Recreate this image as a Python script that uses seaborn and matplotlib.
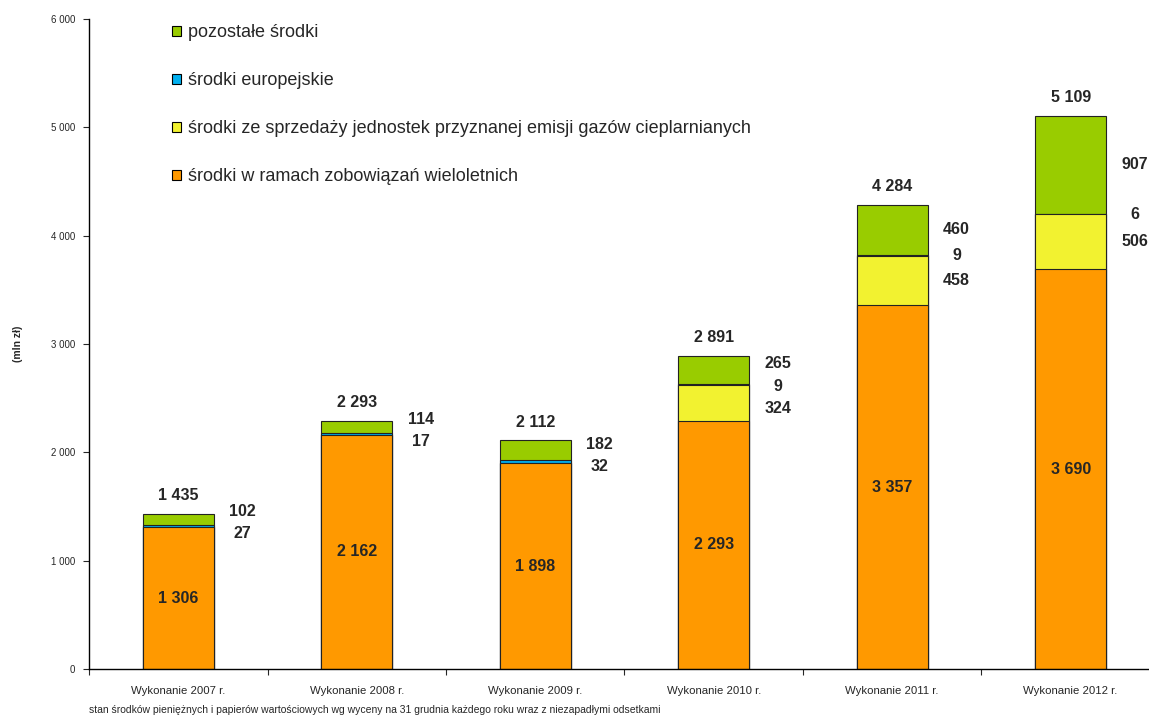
import matplotlib
matplotlib.use("Agg")
import matplotlib.pyplot as plt
import seaborn as sns
import numpy as np
import pandas as pd
from matplotlib.patches import Patch
from matplotlib.ticker import FuncFormatter, FixedLocator

sns.set_style("white")
plt.rcParams['font.family'] = ['Liberation Sans', 'DejaVu Sans']

# dane (mln zł)
years = ["Wykonanie 2007 r.", "Wykonanie 2008 r.", "Wykonanie 2009 r.",
         "Wykonanie 2010 r.", "Wykonanie 2011 r.", "Wykonanie 2012 r."]
zobowiazania = [1306, 2162, 1898, 2293, 3357, 3690]
emisje = [0, 0, 0, 324, 458, 506]
europejskie = [27, 17, 32, 9, 9, 6]
pozostale = [102, 114, 182, 265, 460, 907]

series_names = ["środki w ramach zobowiązań wieloletnich",
                "środki ze sprzedaży jednostek przyznanej emisji gazów cieplarnianych",
                "środki europejskie",
                "pozostałe środki"]
colors = ["#FF9900", "#F2F230", "#00B0F0", "#99CC00"]

footnote = ("stan środków pieniężnych i papierów wartościowych wg wyceny na 31 grudnia "
            "każdego roku wraz z niezapadłymi odsetkami")


def fmt(v):
    return f"{int(v):,}".replace(",", " ")


df = pd.DataFrame({"rok": years, "z": zobowiazania, "e": emisje,
                   "eu": europejskie, "p": pozostale})
layers = ["z", "e", "eu", "p"]
cum = df[layers].cumsum(axis=1)

fig = plt.figure(figsize=(11.49, 7.17), dpi=100)
ax = fig.add_axes([0.0775, 0.067, 0.932, 0.9065])

# stacked bars drawn as overlapping cumulative bars (top layer first)
for i in range(len(layers) - 1, -1, -1):
    sns.barplot(x=df["rok"], y=cum[layers[i]], color=colors[i], width=0.4,
                edgecolor="#222222", linewidth=0.8, saturation=1, ax=ax)

ax.set_ylim(0, 6000)
ax.set_xlim(-0.5, 5.5)
ax.set_xlabel("")
ax.set_ylabel("(mln zł)", fontsize=7.5, fontweight="bold")
ax.yaxis.set_label_coords(-0.062, 0.5)

ax.yaxis.set_major_locator(FixedLocator(np.arange(0, 6001, 1000)))
ax.yaxis.set_major_formatter(FuncFormatter(lambda v, p: fmt(v)))
ax.tick_params(axis="y", which="major", direction="out", length=4, width=0.8,
               labelsize=7, left=True, pad=6)
ax.tick_params(axis="x", which="major", length=0, labelsize=8.2, pad=12)
ax.set_xticks(np.arange(-0.5, 6.0, 1.0), minor=True)
ax.tick_params(axis="x", which="minor", direction="out", length=4, width=0.8, bottom=True)

for s in ["top", "right"]:
    ax.spines[s].set_visible(False)
for s in ["left", "bottom"]:
    ax.spines[s].set_color("black")
    ax.spines[s].set_linewidth(1.0)

# labels
totals = cum["p"].values
for k in range(len(years)):
    # orange value inside
    ax.text(k, zobowiazania[k] / 2, fmt(zobowiazania[k]), ha="center", va="center",
            fontsize=11.5, fontweight="bold")
    # total above
    ax.annotate(fmt(totals[k]), (k, totals[k]), xytext=(0, 13), textcoords="offset points",
                ha="center", va="center", fontsize=11.5, fontweight="bold")
    # side labels: pozostałe, europejskie, emisje (top to bottom)
    items = []
    for name, vals in [("p", pozostale), ("eu", europejskie), ("e", emisje)]:
        if vals[k] > 0:
            top = cum[name].values[k]
            items.append([top - vals[k] / 2, vals[k]])
    gap = 205
    for _ in range(50):
        for j in range(len(items) - 1):
            d = items[j][0] - items[j + 1][0]
            if d < gap:
                shift = (gap - d) / 2
                items[j][0] += shift
                items[j + 1][0] -= shift
    for yv, val in items:
        ax.text(k + 0.36, yv, fmt(val), ha="center", va="center",
                fontsize=11.5, fontweight="bold")

handles = [Patch(facecolor=colors[i], edgecolor="black", linewidth=0.8, label=series_names[i])
           for i in range(3, -1, -1)]
ax.legend(handles=handles, loc="upper left", bbox_to_anchor=(0.071, 1.003), frameon=False,
          fontsize=13, handlelength=0.5, handleheight=0.5, handletextpad=0.35,
          labelspacing=1.72, borderaxespad=0)

fig.text(0.0775, 0.005, footnote, fontsize=7.5,
         family=['Liberation Sans Narrow', 'Liberation Sans', 'DejaVu Sans'])

fig.savefig("out.png", dpi=100)
